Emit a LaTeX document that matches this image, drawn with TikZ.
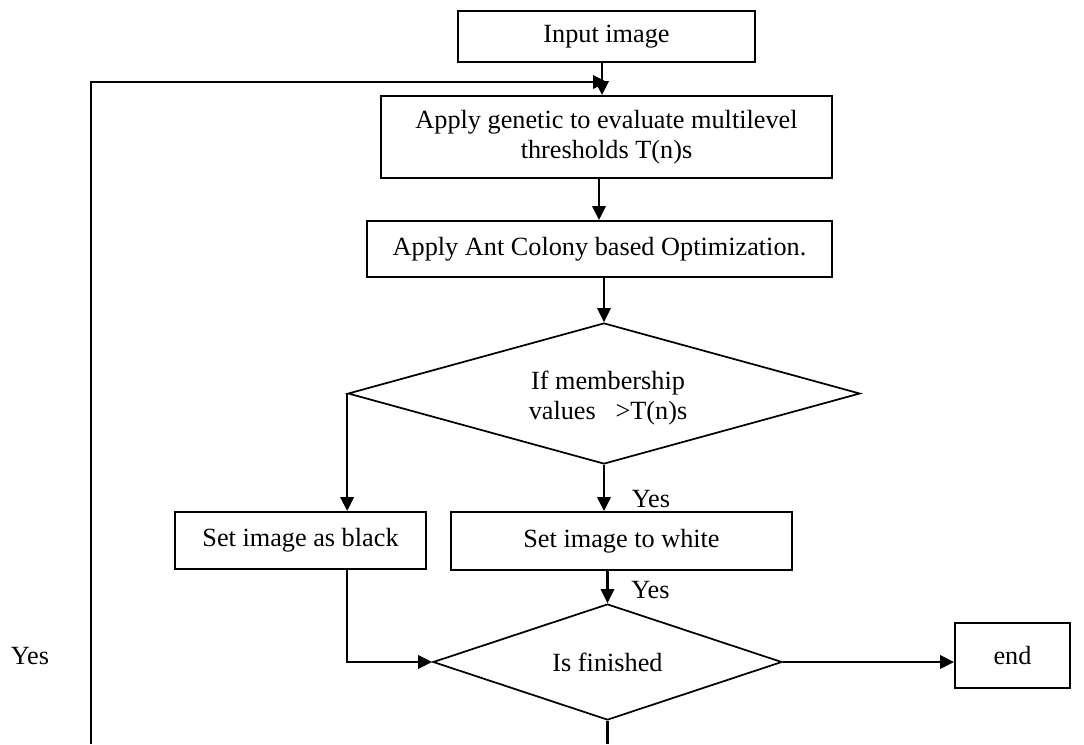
\documentclass[tikz,border=0pt]{standalone}
\usepackage{fontspec}
\setmainfont{Liberation Serif}
\usetikzlibrary{arrows.meta,shapes.geometric}
\begin{document}
\begin{tikzpicture}[x=0.75pt,y=-0.75pt,
  every node/.style={font=\fontsize{19.7}{22.5}\selectfont},
  box/.style={draw,line width=1.4pt,rectangle,inner sep=0pt,align=center},
  dia/.style={draw,line width=1.3pt,diamond,inner sep=0pt,align=center},
  arr/.style={line width=1.8pt,-{Triangle[length=10.5pt,width=10pt]}},
  ln/.style={line width=1.8pt},
  lbl/.style={inner sep=0pt}]
\useasboundingbox (0,0) rectangle (1084,744);
% nodes
\node[box,minimum width=222.75pt,minimum height=38.25pt] (in) at (606.5,36.5) {\raisebox{-2pt}{Input image}};
\node[box,minimum width=338.25pt,minimum height=61.5pt] (gen) at (606.5,137) {\raisebox{-2pt}{Apply genetic to evaluate multilevel}\\\raisebox{-2pt}{thresholds T(n)s}};
\node[box,minimum width=348.75pt,minimum height=42pt] (aco) at (599.5,249) {Apply Ant Colony based Optimization.};
\node[dia,minimum width=384pt,minimum height=105.75pt,aspect=3.6] (d1) at (604,393.5) {};
\node[lbl,align=center] (d1t) at (608,398) {If membership\\values\enspace\ {>}T(n)s};
\node[box,minimum width=188.25pt,minimum height=42.75pt] (black) at (300.5,540.5) {\raisebox{-1.5pt}{Set image as black}};
\node[box,minimum width=255.75pt,minimum height=43.5pt] (white) at (621.5,541) {\raisebox{-1.5pt}{Set image to white}};
\node[dia,minimum width=261.75pt,minimum height=87pt,aspect=3] (d2) at (607.5,662) {Is finished};
\node[box,minimum width=86.25pt,minimum height=48.75pt] (end) at (1012.5,655.5) {end};
% helper coordinates
\coordinate (c1) at (602,0);
\coordinate (loopstart) at (91,744);
\coordinate (loopend) at (607,82);
\coordinate (bottomend) at (607.5,744);
% connectors
\draw[arr] (in.south -| c1) -- (gen.north -| c1);
\draw[arr] (loopstart) |- (loopend);
\draw[arr] (gen.south -| 599,0) -- (aco.north -| 599,0);
\draw[arr] (aco.south -| d1.north) -- (d1.north);
\draw[arr] (d1.west) -- (d1.west |- black.north);
\draw[arr] (d1.south) -- (d1.south |- white.north) node[lbl,anchor=south west,pos=0.95,xshift=20pt] (y1) {Yes};
\draw[arr] (white.south -| d2.north) -- (d2.north) node[lbl,anchor=south west,pos=0.9,xshift=17pt] (y2) {Yes};
\draw[arr] (black.south -| d1.west) |- (d2.west);
\draw[arr] (d2.east) -- (d2.east -| end.west);
\draw[ln] (d2.south) -- (bottomend);
\node[lbl] (y3) at (30,656) {Yes};
\end{tikzpicture}
\end{document}
